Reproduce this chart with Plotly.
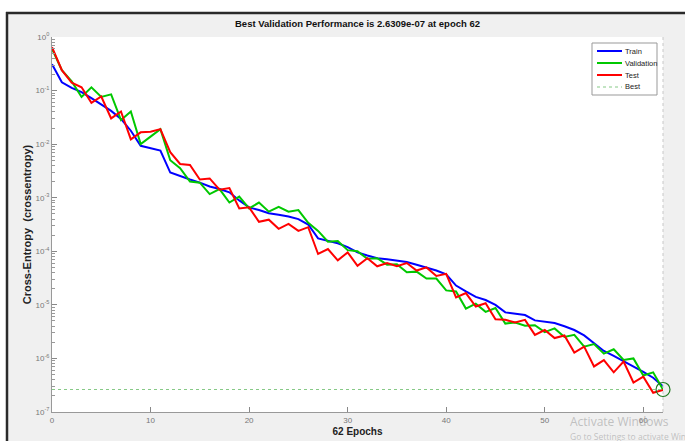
import plotly.graph_objects as go

# ---------------- data ----------------
epochs = list(range(63))

train = [3.1e-1, 1.43e-1, 1.12e-1, 9.33e-2, 7.24e-2, 5.5e-2, 4.17e-2, 2.95e-2, 1.78e-2, 9.33e-3,
         8.51e-3, 7.59e-3, 2.95e-3, 2.51e-3, 2.19e-3, 1.91e-3, 1.62e-3, 1.45e-3, 1.26e-3, 8.91e-4,
         6.61e-4, 5.89e-4, 5.13e-4, 4.79e-4, 4.47e-4, 3.98e-4, 3.16e-4, 1.74e-4, 1.55e-4, 1.41e-4,
         1.20e-4, 9.55e-5, 8.32e-5, 7.41e-5, 7.08e-5, 6.76e-5, 6.31e-5, 5.62e-5, 5.01e-5, 4.37e-5,
         3.72e-5, 2.29e-5, 1.78e-5, 1.41e-5, 1.23e-5, 1.0e-5, 7.24e-6, 6.76e-6, 6.46e-6, 5.13e-6,
         4.90e-6, 4.57e-6, 3.98e-6, 3.39e-6, 2.69e-6, 1.91e-6, 1.38e-6, 1.12e-6, 8.91e-7, 7.24e-7,
         5.62e-7, 4.37e-7, 3.02e-7]

validation = [6.03e-1, 2.40e-1, 1.48e-1, 7.59e-2, 1.15e-1, 7.59e-2, 8.51e-2, 2.82e-2, 4.07e-2, 1.0e-2,
              1.38e-2, 1.91e-2, 5.01e-3, 3.55e-3, 2.0e-3, 1.91e-3, 1.17e-3, 1.45e-3, 8.13e-4, 1.05e-3,
              6.31e-4, 8.13e-4, 5.50e-4, 6.76e-4, 5.50e-4, 5.89e-4, 3.39e-4, 2.40e-4, 1.51e-4, 1.55e-4,
              1.05e-4, 1.0e-4, 7.24e-5, 7.41e-5, 5.62e-5, 5.75e-5, 4.07e-5, 4.17e-5, 3.09e-5, 3.09e-5,
              1.86e-5, 1.78e-5, 8.51e-6, 1.05e-5, 7.41e-6, 8.71e-6, 4.47e-6, 4.68e-6, 4.07e-6, 4.17e-6,
              3.09e-6, 3.63e-6, 2.51e-6, 2.75e-6, 1.66e-6, 1.86e-6, 1.23e-6, 1.48e-6, 9.33e-7, 1.0e-6,
              4.79e-7, 5.50e-7, 2.6309e-7]

test = [6.46e-1, 2.40e-1, 1.41e-1, 1.15e-1, 5.89e-2, 7.76e-2, 3.02e-2, 4.07e-2, 1.23e-2, 1.66e-2,
        1.70e-2, 1.91e-2, 7.08e-3, 4.27e-3, 4.07e-3, 2.19e-3, 2.29e-3, 1.41e-3, 1.51e-3, 6.31e-4,
        6.61e-4, 3.55e-4, 3.89e-4, 2.63e-4, 3.24e-4, 2.40e-4, 2.82e-4, 8.91e-5, 1.10e-4, 6.76e-5,
        9.55e-5, 5.37e-5, 7.41e-5, 5.25e-5, 6.03e-5, 5.25e-5, 6.03e-5, 4.37e-5, 5.01e-5, 3.47e-5,
        3.80e-5, 1.38e-5, 1.66e-5, 9.33e-6, 1.07e-5, 5.37e-6, 5.25e-6, 4.68e-6, 5.25e-6, 2.75e-6,
        3.39e-6, 2.40e-6, 2.69e-6, 1.29e-6, 1.66e-6, 7.08e-7, 9.33e-7, 5.50e-7, 8.71e-7, 3.55e-7,
        4.57e-7, 2.29e-7, 2.57e-7]

best_epoch = 62
best_value = 2.6309e-07

series_names = ["Train", "Validation", "Test", "Best"]
x_tick_values = [0, 10, 20, 30, 40, 50, 60]
y_tick_exponents = [0, -1, -2, -3, -4, -5, -6, -7]

# ---------------- styles ----------------
FONT = "Liberation Sans, Arial, sans-serif"
COLORS = {"Train": "#0000ff", "Validation": "#00c800", "Test": "#ff0000", "Best": "#86c986"}

# plot area in pixels
L, R, T, B = 52, 663, 37, 412
W, H = 685, 441


def px_x(p):
    return (p - L) / (R - L)


def px_y(p):
    return (B - p) / (B - T)


fig = go.Figure()
for name, vals in zip(series_names[:3], [train, validation, test]):
    fig.add_trace(go.Scatter(x=epochs, y=vals, mode="lines", name=name, showlegend=False,
                             line=dict(color=COLORS[name], width=2)))
fig.add_trace(go.Scatter(x=[epochs[0], epochs[-1]], y=[best_value, best_value], mode="lines",
                         name="Best", showlegend=False,
                         line=dict(color=COLORS["Best"], width=1, dash="dot")))
fig.add_trace(go.Scatter(x=[best_epoch], y=[best_value], mode="markers", showlegend=False,
                         cliponaxis=False,
                         marker=dict(symbol="circle-open", size=14, color="#1f7a1f",
                                     line=dict(color="#1f7a1f", width=1.2))))

y_tickvals = [10.0 ** e for e in y_tick_exponents]
y_ticktext = ["10<sup>%d</sup>" % e for e in y_tick_exponents]
y_minor = [k * 10.0 ** e for e in range(-7, 0) for k in range(2, 10)]

fig.update_layout(
    width=W, height=H,
    margin=dict(l=L, r=W - R, t=T, b=H - B, autoexpand=False),
    paper_bgcolor="#f0f0f0",
    plot_bgcolor="white",
    font=dict(family=FONT, color="#222"),
    title=dict(text="<b>Best Validation Performance is %.4e at epoch %d</b>" % (best_value, best_epoch),
               x=0.5, xref="paper", y=1 - 24 / H, yanchor="middle",
               font=dict(size=9.5, color="#111")),
    showlegend=False,
    hovermode=False,
    xaxis=dict(range=[0, 62], tickmode="array", tickvals=x_tick_values, automargin=False,
               ticks="inside", ticklen=5, tickcolor="#888", showline=True, linecolor="#999",
               linewidth=1, showgrid=False, zeroline=False,
               tickfont=dict(size=8, color="#777"),
               title=dict(text="<b>62 Epochs</b>", font=dict(size=10, color="#222"), standoff=4)),
    yaxis=dict(type="log", range=[-7, 0], tickmode="array", tickvals=y_tickvals, ticktext=y_ticktext,
               automargin=False,
               ticks="inside", ticklen=5, tickcolor="#888", showline=True, linecolor="#999",
               linewidth=1, showgrid=False, zeroline=False,
               minor=dict(tickmode="array", tickvals=y_minor, ticks="inside", ticklen=3,
                          tickcolor="#999", showgrid=False),
               tickfont=dict(size=8, color="#777"),
               title=dict(text="<b>Cross-Entropy&nbsp; (crossentropy)</b>",
                          font=dict(size=11, color="#222"), standoff=1)),
)

# ---------------- compact MATLAB-style legend ----------------
leg_x0, leg_x1, leg_y0 = 592, 657, 43
row_h = 12
fig.add_shape(type="rect", xref="paper", yref="paper",
              x0=px_x(leg_x0), x1=px_x(leg_x1), y0=px_y(leg_y0 + 8 + row_h * 4 - 4), y1=px_y(leg_y0),
              fillcolor="white", line=dict(color="#999", width=1), layer="above")
for i, name in enumerate(series_names):
    yy = leg_y0 + 8 + row_h * i
    is_best = name == "Best"
    fig.add_shape(type="line", xref="paper", yref="paper",
                  x0=px_x(leg_x0 + 5), x1=px_x(leg_x0 + 30), y0=px_y(yy), y1=px_y(yy),
                  line=dict(color=COLORS[name], width=1 if is_best else 2,
                            dash="dot" if is_best else "solid"), layer="above")
    fig.add_annotation(text=name, xref="paper", yref="paper", x=px_x(leg_x0 + 31), y=px_y(yy),
                       xanchor="left", yanchor="middle", showarrow=False,
                       font=dict(size=7.5, color="#222"))

# ---------------- window frame decorations ----------------
fig.add_shape(type="rect", xref="paper", yref="paper", x0=px_x(0), x1=px_x(W), y0=px_y(12), y1=px_y(0),
              fillcolor="white", line=dict(width=0), layer="above")
fig.add_shape(type="rect", xref="paper", yref="paper", x0=px_x(0), x1=px_x(6), y0=px_y(H), y1=px_y(0),
              fillcolor="white", line=dict(width=0), layer="above")
fig.add_shape(type="line", xref="paper", yref="paper", x0=px_x(6), x1=px_x(W), y0=px_y(13), y1=px_y(13),
              line=dict(color="#2a2a2a", width=2.5), layer="above")
fig.add_shape(type="line", xref="paper", yref="paper", x0=px_x(7), x1=px_x(7), y0=px_y(12), y1=px_y(H),
              line=dict(color="#2a2a2a", width=2.5), layer="above")
fig.add_shape(type="line", xref="paper", yref="paper", x0=1, x1=1, y0=0, y1=1,
              line=dict(color="#c8c8c8", width=1, dash="dot"), layer="above")

# OS watermark seen in the reference
fig.add_annotation(text="Activate Windows", xref="paper", yref="paper", x=px_x(568), y=px_y(421),
                   xanchor="left", yanchor="middle", showarrow=False,
                   font=dict(family="Open Sans, sans-serif", size=12, color="rgba(150,150,150,0.55)"))
fig.add_annotation(text="Go to Settings to activate Windows.", xref="paper", yref="paper",
                   x=px_x(568), y=px_y(436), xanchor="left", yanchor="middle", showarrow=False,
                   font=dict(family="Open Sans, sans-serif", size=8.5, color="rgba(150,150,150,0.55)"))

# remove the default 8px page margin so the figure fills the window exactly
fig.write_html("out.html", config={"displayModeBar": False},
               post_script="document.body.style.margin='0';document.body.style.overflow='hidden';")
